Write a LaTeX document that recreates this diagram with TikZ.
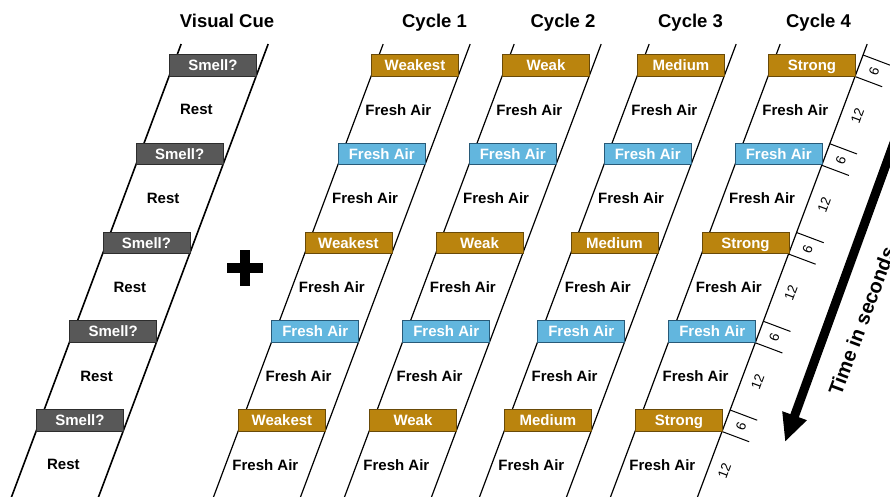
\documentclass[tikz,border=0pt]{standalone}
\usepackage{fontspec}
\setmainfont{Liberation Sans}
\usetikzlibrary{arrows.meta,calc}

\definecolor{cuegray}{RGB}{88,88,88}
\definecolor{cueedge}{RGB}{45,45,45}
\definecolor{odorgold}{RGB}{186,132,14}
\definecolor{odoredge}{RGB}{105,74,8}
\definecolor{airblue}{RGB}{98,182,222}
\definecolor{airedge}{RGB}{40,90,120}

\begin{document}
\begin{tikzpicture}[x=1pt,y=-1pt,
  stim/.style={draw, line width=0.9pt, minimum width=87pt, minimum height=21.5pt,
    inner sep=0pt, text height=10.8pt, text depth=0pt, anchor=south west, text=white,
    font=\fontsize{15}{15}\selectfont\bfseries},
  cue/.style={stim, fill=cuegray, draw=cueedge},
  odor/.style={stim, fill=odorgold, draw=odoredge},
  air/.style={stim, fill=airblue, draw=airedge},
  gaptext/.style={inner sep=0pt, font=\fontsize{15}{15}\selectfont\bfseries},
  head/.style={inner sep=0pt, anchor=base, font=\fontsize{18.5}{18.5}\selectfont\bfseries},
  rail/.style={line width=1.2pt},
  cuerail/.style={line width=1.6pt},
  tickline/.style={line width=1pt},
  secs/.style={inner sep=0pt, rotate=69.5, font=\fontsize{13.5}{13.5}\selectfont},
]
\clip (0,0) rectangle (890,496);

% column headings
\node[head] (hcue) at (227,27) {Visual Cue};
\node[head] (h1) at (434.5,27) {Cycle 1};
\node[head] (h2) at (563,27) {Cycle 2};
\node[head] (h3) at (690.5,27) {Cycle 3};
\node[head] (h4) at (818.5,27) {Cycle 4};

% slanted rails of every column (slope 0.3746 px per px)
\foreach \n/\X/\w in {v/169/cuerail, a/371/rail, b/502/rail, c/637/rail, d/768/rail} {
  \coordinate (\n-lt) at (\X+12.17,44);
  \coordinate (\n-lb) at (\X-158.64,500);
  \coordinate (\n-rt) at (\X+99.17,44);
  \coordinate (\n-rb) at (\X-71.64,500);
  \draw[\w] (\n-lt) -- (\n-lb) (\n-rt) -- (\n-rb);
}

% time ruler along the right rail of cycle 4
\foreach \i in {0,...,4} {
  \pgfmathsetmacro\yt{55+88.75*\i}
  \pgfmathsetmacro\yb{76.5+88.75*\i}
  \pgfmathsetmacro\ys{65.75+88.75*\i}
  \pgfmathsetmacro\yl{110.1+88.75*\i}
  \coordinate (ta\i) at ({855-0.3746*(\yt-76.5)},\yt);
  \coordinate (tb\i) at ({855-0.3746*(\yb-76.5)},\yb);
  \draw[tickline] (ta\i) -- ++(27.1,10.2);
  \draw[tickline] (tb\i) -- ++(27.1,10.2);
  \node[secs] (six\i) at ({855-0.3746*(\ys-76.5)+15},\ys+5.6) {6};
  \node[secs] (twelve\i) at ({855-0.3746*(\yl-76.5)+15},\yl+5.6) {12};
}

% visual cue column
\foreach \i in {0,...,4} {
  \pgfmathsetmacro\bx{169-33.25*\i}
  \pgfmathsetmacro\by{76.5+88.75*\i}
  \node[cue] (v\i) at (\bx,\by) {Smell?};
  \node[gaptext] (vr\i) at ($(v\i.center)+(-16.6,44.4)$) {Rest};
}

% odour cycles
\foreach \n/\X/\odor in {a/371/Weakest, b/502/Weak, c/637/Medium, d/768/Strong} {
  \foreach \i/\kind/\txt in {0/odor/\odor, 1/air/Fresh Air, 2/odor/\odor, 3/air/Fresh Air, 4/odor/\odor} {
    \pgfmathsetmacro\bx{\X-33.25*\i}
    \pgfmathsetmacro\by{76.5+88.75*\i}
    \node[\kind] (\n\i) at (\bx,\by) {\txt};
    \node[gaptext] (\n f\i) at ($(\n\i.center)+(-16.6,44.4)$) {Fresh Air};
  }
}

% plus sign between cue and cycles
\coordinate (pl) at (227,268);
\coordinate (pr) at (263,268);
\coordinate (pt) at (245,250);
\coordinate (pb) at (245,286);
\draw[line width=10pt] (pl) -- (pr) (pt) -- (pb);

% time arrow
\coordinate (arrtop) at (895,140);
\coordinate (arrtip) at (785,442);
\draw[line width=9pt, -{Triangle[length=28pt,width=24pt]}] (arrtop) -- (arrtip);
\node[inner sep=0pt, anchor=base west, rotate=69.5,
  font=\fontsize{20}{20}\selectfont\bfseries] (timelbl) at (841,397) {Time in seconds};
\end{tikzpicture}
\end{document}
